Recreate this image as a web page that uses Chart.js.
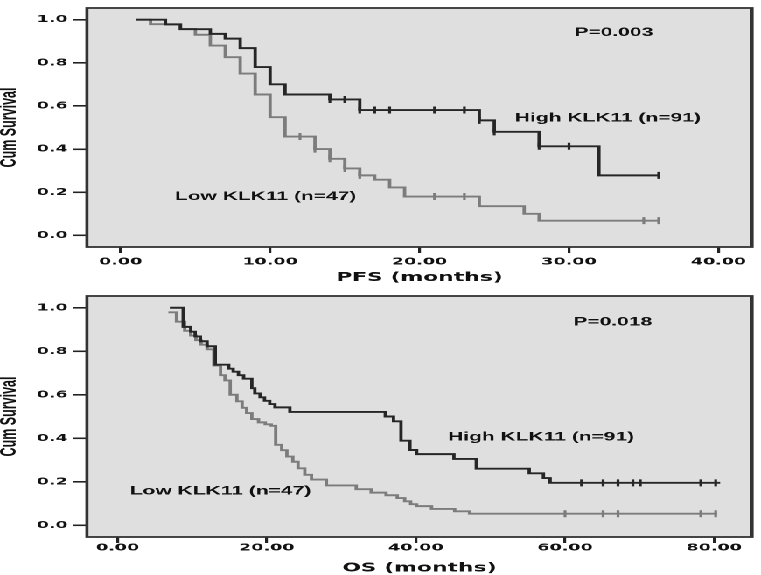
<!DOCTYPE html>
<html>
<head>
<meta charset="utf-8">
<script src="https://cdn.jsdelivr.net/npm/chart.js@4.4.0/dist/chart.umd.min.js"></script>
<style>
  html, body { margin: 0; padding: 0; background: #fff; overflow: hidden; }
  /* the source figure is stretched sideways, so the whole page is too */
  #wrap { position: absolute; left: 0; top: 0; width: 435px; height: 575px;
          transform: scaleX(1.7494); transform-origin: 0 0; }
  .panel { position: absolute; left: 0; width: 435px; }
</style>
</head>
<body>
<div id="wrap">
  <div class="panel" style="top:0; height:288px;"><canvas id="pfs-chart"></canvas></div>
  <div class="panel" style="top:288px; height:287px;"><canvas id="os-chart"></canvas></div>
</div>
<script>
// PFS, months / cumulative survival at each step
const pfsHighT = [1, 3, 4, 6, 7, 8, 9, 10, 11, 14, 16, 24, 25, 28, 32, 36];
const pfsHighS = [1.0, 0.978, 0.956, 0.934, 0.912, 0.868, 0.78, 0.70, 0.653, 0.63, 0.581, 0.533, 0.48, 0.413, 0.278, 0.278];
const pfsHighCens = [14, 15, 16, 17, 18, 21, 23, 24, 25, 28, 30, 36];

const pfsLowT = [1, 2, 4, 5, 6, 7, 8, 9, 10, 11, 13, 14, 15, 16, 17, 18, 19, 24, 27, 28, 36];
const pfsLowS = [1.0, 0.979, 0.957, 0.93, 0.88, 0.826, 0.75, 0.653, 0.548, 0.458, 0.40, 0.355, 0.31, 0.278, 0.258, 0.222, 0.18, 0.135, 0.10, 0.068, 0.068];
const pfsLowCens = [12, 13, 14, 15, 16, 21, 23, 35, 36];

// OS
const osHighT = [7.0, 8.8, 9.8, 10.4, 11.1, 12.0, 13.1, 14.9, 15.5, 16.2, 16.9, 18.0, 18.4, 19.1, 19.7, 20.4, 21.1, 23.1, 35.9, 37.0, 38.0, 39.2, 40.1, 45.1, 48.1, 55.2, 57.1, 58.0, 80.8];
const osHighS = [1.0, 0.912, 0.89, 0.868, 0.846, 0.823, 0.738, 0.72, 0.706, 0.69, 0.674, 0.63, 0.606, 0.588, 0.572, 0.557, 0.542, 0.521, 0.50, 0.478, 0.389, 0.346, 0.327, 0.305, 0.26, 0.239, 0.217, 0.195, 0.195];
const osHighCens = [62.2, 65.1, 67.1, 69.1, 70.1, 78.2, 80.2];

const osLowT = [6.8, 7.9, 9.0, 9.8, 10.5, 11.2, 12.0, 12.9, 13.8, 14.4, 15.1, 16.0, 16.7, 17.3, 18.0, 18.9, 19.8, 20.6, 21.2, 22.0, 22.7, 23.5, 24.2, 25.1, 26.0, 28.0, 32.0, 34.0, 36.0, 37.5, 38.5, 39.3, 40.1, 42.1, 45.2, 47.2, 80.4];
const osLowS = [0.979, 0.936, 0.894, 0.872, 0.851, 0.83, 0.809, 0.734, 0.69, 0.666, 0.60, 0.57, 0.54, 0.516, 0.488, 0.473, 0.464, 0.457, 0.37, 0.345, 0.316, 0.292, 0.262, 0.232, 0.21, 0.183, 0.166, 0.15, 0.138, 0.125, 0.11, 0.097, 0.088, 0.075, 0.064, 0.053, 0.053];
const osLowCens = [60.0, 65.1, 67.1, 78.2, 80.2];

const pfsTicks = [0, 10, 20, 30, 40];
const osTicks = [0, 20, 40, 60, 80];
const survTicks = [0, 0.2, 0.4, 0.6, 0.8, 1.0];

const dark = '#262626';
const light = '#7c7c7c';
const tickFont = {family: 'DejaVu Sans', weight: 'bold', size: 10, lineHeight: 1};

function steps(T, S) {
  return T.map((t, i) => ({x: t, y: S[i]}));
}
// censor marks sit on the curve
function censors(T, S, C) {
  return C.map(c => {
    let s = S[0];
    for (let i = 0; i < T.length; i++) if (T[i] <= c) s = S[i];
    return {x: c, y: s};
  });
}

function curve(T, S, color) {
  return {data: steps(T, S), showLine: true, stepped: 'before', borderColor: color,
          borderWidth: 1.9, pointRadius: 0, pointHoverRadius: 0, fill: false};
}
function marks(T, S, C, color) {
  return {data: censors(T, S, C), showLine: false, pointStyle: 'line', rotation: 90,
          pointRadius: 3.5, pointHoverRadius: 3.5, borderColor: color, borderWidth: 1.6};
}

const panel = {
  id: 'panel',
  beforeDraw(chart) {
    const a = chart.chartArea, ctx = chart.ctx;
    ctx.save();
    ctx.fillStyle = '#dfdfdf';
    ctx.fillRect(a.left, a.top, a.right - a.left, a.bottom - a.top);
    ctx.restore();
  },
  afterDraw(chart, args, opts) {
    const a = chart.chartArea, ctx = chart.ctx;
    ctx.save();
    ctx.strokeStyle = '#333';
    ctx.lineWidth = 1.8;
    ctx.strokeRect(a.left, a.top, a.right - a.left, a.bottom - a.top);
    ctx.fillStyle = '#111';
    ctx.font = 'bold 12px "Liberation Sans", Arial, sans-serif';
    ctx.textAlign = 'center';
    ctx.textBaseline = 'middle';
    (opts.notes || []).forEach(n => {
      ctx.fillText(n.text, chart.scales.x.getPixelForValue(n.x), chart.scales.y.getPixelForValue(n.y));
    });
    ctx.restore();
  }
};

function axes(xMin, xMax, xTicks, xTitle, xHeight, titlePad) {
  return {
    x: {
      type: 'linear', min: xMin, max: xMax,
      afterBuildTicks: s => { s.ticks = xTicks.map(v => ({value: v})); },
      afterFit: s => { s.height = xHeight; },
      ticks: {callback: v => v.toFixed(2), font: tickFont, color: '#111', padding: xHeight > 40 ? 4 : 0, maxRotation: 0, autoSkip: false},
      grid: {drawOnChartArea: false, drawTicks: true, tickLength: 6, color: '#222', lineWidth: 1.6},
      border: {display: false},
      title: {display: true, text: xTitle, color: '#111',
              font: {family: 'DejaVu Sans', weight: 'bold', size: 12.5, lineHeight: 1},
              padding: {top: 0, bottom: titlePad}}
    },
    y: {
      min: -0.054, max: 1.054,
      afterBuildTicks: s => { s.ticks = survTicks.map(v => ({value: v})); },
      afterFit: s => { s.width = 49.7; },
      ticks: {callback: v => v.toFixed(1), font: tickFont, color: '#111', padding: 3},
      grid: {drawOnChartArea: false, drawTicks: true, tickLength: 8, color: '#222', lineWidth: 1.6},
      border: {display: false},
      title: {display: true, text: 'Cum Survival', color: '#111',
              font: {family: 'Liberation Sans', weight: 'bold', size: 12.5, lineHeight: 1},
              padding: {top: -0.5, bottom: 0}}
    }
  };
}

new Chart(document.getElementById("pfs-chart"), {
  type: 'scatter',
  data: {
    datasets: [
      curve(pfsHighT, pfsHighS, dark),
      curve(pfsLowT, pfsLowS, light),
      marks(pfsHighT, pfsHighS, pfsHighCens, dark),
      marks(pfsLowT, pfsLowS, pfsLowCens, light)
    ]
  },
  options: {
    responsive: true, maintainAspectRatio: false, animation: false, devicePixelRatio: 2,
    layout: {padding: {top: 1, right: 1.7, left: 0, bottom: 0}},
    scales: axes(-2.255, 42.25, pfsTicks, 'PFS (months)', 41, 4.25),
    plugins: {
      legend: {display: false}, tooltip: {enabled: false},
      panel: {notes: [
        {text: 'P=0.003', x: 33.0, y: 0.94},
        {text: 'High KLK11 (n=91)', x: 32.6, y: 0.543},
        {text: 'Low KLK11 (n=47)', x: 9.7, y: 0.18}
      ]}
    }
  },
  plugins: [panel]
});

new Chart(document.getElementById("os-chart"), {
  type: 'scatter',
  data: {
    datasets: [
      curve(osHighT, osHighS, dark),
      curve(osLowT, osLowS, light),
      marks(osHighT, osHighS, osHighCens, dark),
      marks(osLowT, osLowS, osLowCens, light)
    ]
  },
  options: {
    responsive: true, maintainAspectRatio: false, animation: false, devicePixelRatio: 2,
    layout: {padding: {top: 2, right: 1.1, left: 0, bottom: 0}},
    scales: axes(-4.11, 85.08, osTicks, 'OS (months)', 38, 0.75),
    plugins: {
      legend: {display: false}, tooltip: {enabled: false},
      panel: {notes: [
        {text: 'P=0.018', x: 66.4, y: 0.933},
        {text: 'High KLK11 (n=91)', x: 56.8, y: 0.404},
        {text: 'Low KLK11 (n=47)', x: 13.8, y: 0.157}
      ]}
    }
  },
  plugins: [panel]
});
</script>
</body>
</html>
